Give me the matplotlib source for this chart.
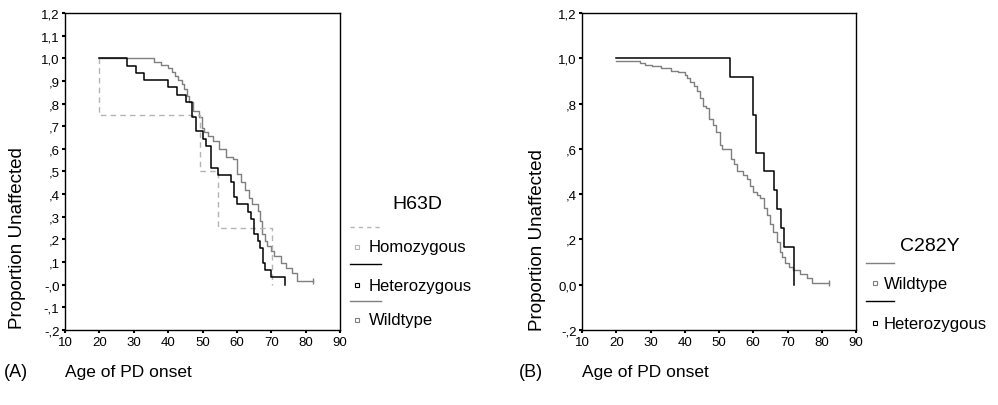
import matplotlib
matplotlib.use("Agg")
import matplotlib.pyplot as plt
from matplotlib.lines import Line2D
from matplotlib.ticker import FixedLocator, FixedFormatter

plt.rcParams['font.family'] = ['Liberation Sans', 'DejaVu Sans']

# ---------------- data ----------------
x_ticks = [10, 20, 30, 40, 50, 60, 70, 80, 90]
x_ticklabels = ["10", "20", "30", "40", "50", "60", "70", "80", "90"]

yA_ticks = [1.2, 1.1, 1.0, 0.9, 0.8, 0.7, 0.6, 0.5, 0.4, 0.3, 0.2, 0.1, 0.0, -0.1, -0.2]
yA_ticklabels = ["1,2", "1,1", "1,0", ",9", ",8", ",7", ",6", ",5", ",4", ",3", ",2", ",1", "-,0", "-,1", "-,2"]
yB_ticks = [1.2, 1.0, 0.8, 0.6, 0.4, 0.2, 0.0, -0.2]
yB_ticklabels = ["1,2", "1,0", ",8", ",6", ",4", ",2", "0,0", "-,2"]

# Panel A (H63D): drop ages and survival after each drop
hom_start, hom_s0 = 20, 1.0
hom_t = [20, 49.2, 54.4, 70.3]
hom_s = [0.75, 0.50, 0.25, 0.0]
hom_end = 70.3

het_start, het_s0 = 20, 1.0
het_t = [27.9, 30.6, 32.9, 40.0, 42.7, 45.3, 47.0, 48.0, 50.1, 51.1, 52.6, 54.6,
         58.3, 59.2, 59.9, 63.1, 64.1, 65.1, 66.0, 66.8, 67.5, 68.3, 70.0, 74.1]
het_s = [0.967, 0.935, 0.903, 0.871, 0.839, 0.806, 0.742, 0.677, 0.645, 0.613, 0.516, 0.484,
         0.452, 0.387, 0.355, 0.323, 0.290, 0.226, 0.194, 0.161, 0.097, 0.065, 0.032, 0.0]
het_end = 74.1

wtA_start, wtA_s0 = 20, 1.0
wtA_t = [36.0, 38.0, 40.0, 41.0, 42.0, 43.0, 44.0, 44.6, 45.4, 46.2, 47.1, 49.1, 49.8, 50.3,
         51.5, 53.0, 54.9, 56.8, 58.8, 59.9, 61.1, 62.4, 63.6, 64.5, 66.0, 66.8, 67.3, 68.3,
         68.8, 69.8, 70.8, 72.7, 74.2, 76.1, 77.4]
wtA_s = [0.985, 0.970, 0.955, 0.940, 0.920, 0.905, 0.885, 0.864, 0.835, 0.806, 0.765, 0.740,
         0.690, 0.675, 0.657, 0.635, 0.600, 0.565, 0.553, 0.490, 0.452, 0.420, 0.381, 0.358,
         0.327, 0.283, 0.224, 0.195, 0.172, 0.150, 0.125, 0.096, 0.072, 0.052, 0.017]
wtA_end = 82.0

# Panel B (C282Y)
wtB_start, wtB_s0 = 20, 0.99
wtB_t = [27.0, 28.4, 30.4, 33.0, 36.0, 37.9, 40.0, 40.6, 41.6, 42.6, 43.5, 44.5, 45.3, 46.1,
         47.1, 48.2, 49.2, 50.2, 50.9, 53.5, 54.4, 55.4, 57.0, 58.1, 59.1, 59.9, 61.1, 62.0,
         63.0, 64.0, 65.0, 65.9, 66.9, 67.7, 68.4, 69.3, 70.3, 71.6, 73.7, 75.6, 77.1]
wtB_s = [0.980, 0.972, 0.965, 0.958, 0.946, 0.938, 0.925, 0.911, 0.894, 0.876, 0.855, 0.823,
         0.788, 0.780, 0.732, 0.705, 0.673, 0.617, 0.600, 0.553, 0.534, 0.500, 0.483, 0.468,
         0.436, 0.410, 0.395, 0.381, 0.337, 0.307, 0.270, 0.234, 0.187, 0.146, 0.124, 0.094,
         0.077, 0.065, 0.046, 0.028, 0.008]
wtB_end = 82.0

hetB_start, hetB_s0 = 20, 1.0
hetB_t = [53.3, 60.0, 60.9, 63.2, 66.1, 67.0, 68.2, 68.9, 71.9]
hetB_s = [0.917, 0.750, 0.583, 0.500, 0.417, 0.333, 0.250, 0.167, 0.0]
hetB_end = 71.9

legendA_title = "H63D"
legendA_labels = ["Homozygous", "Heterozygous", "Wildtype"]
legendB_title = "C282Y"
legendB_labels = ["Wildtype", "Heterozygous"]

GREY = "#7f7f7f"
LIGHT = "#b4b4b4"


def km(ax, start, s0, t, s, end, **kw):
    xs = [start] + list(t) + [end]
    ys = [s0] + list(s) + [s[-1]]
    ax.step(xs, ys, where="post", **kw)


fig = plt.figure(figsize=(9.98, 4.06), dpi=100)
axA = fig.add_axes([65 / 998, 1 - 331 / 406, (340 - 65) / 998, (331 - 14) / 406])
axB = fig.add_axes([582 / 998, 1 - 331 / 406, (856 - 582) / 998, (331 - 14) / 406])

km(axA, wtA_start, wtA_s0, wtA_t, wtA_s, wtA_end, color=GREY, lw=1.0)
km(axA, hom_start, hom_s0, hom_t, hom_s, hom_end, color=LIGHT, lw=1.0, dashes=(4, 3))
km(axA, het_start, het_s0, het_t, het_s, het_end, color="black", lw=1.1)
axA.plot([wtA_end], [wtA_s[-1]], marker="|", ms=4, color=GREY, mew=1)

km(axB, wtB_start, wtB_s0, wtB_t, wtB_s, wtB_end, color=GREY, lw=1.0)
km(axB, hetB_start, hetB_s0, hetB_t, hetB_s, hetB_end, color="black", lw=1.1)
axB.plot([wtB_end], [wtB_s[-1]], marker="|", ms=4, color=GREY, mew=1)

for ax, yt, ylab in [(axA, yA_ticks, yA_ticklabels), (axB, yB_ticks, yB_ticklabels)]:
    ax.set_xlim(10, 90)
    ax.set_ylim(-0.2, 1.2)
    ax.xaxis.set_major_locator(FixedLocator(x_ticks))
    ax.xaxis.set_major_formatter(FixedFormatter(x_ticklabels))
    ax.yaxis.set_major_locator(FixedLocator(yt))
    ax.yaxis.set_major_formatter(FixedFormatter(ylab))
    ax.tick_params(axis="both", direction="out", length=2.5, width=1.5, labelsize=9.5,
                   pad=1.5, colors="black")
    for sp in ax.spines.values():
        sp.set_linewidth(1.0)
        sp.set_color("black")
    ax.set_facecolor("white")

# axis titles
fig.text(18 / 998, 1 - 238 / 406, "Proportion Unaffected", rotation=90,
         ha="center", va="center", fontsize=13.5)
fig.text(537 / 998, 1 - 240 / 406, "Proportion Unaffected", rotation=90,
         ha="center", va="center", fontsize=13.5)
fig.text(65 / 998, 1 - 373 / 406, "Age of PD onset", ha="left", va="center", fontsize=12.5)
fig.text(582 / 998, 1 - 373 / 406, "Age of PD onset", ha="left", va="center", fontsize=12.5)
fig.text(4 / 998, 1 - 373 / 406, "(A)", ha="left", va="center", fontsize=13)
fig.text(519 / 998, 1 - 373 / 406, "(B)", ha="left", va="center", fontsize=13)


def fx(px):
    return px / 998


def fy(py):
    return 1 - py / 406


def legend(title, title_xy, labels, styles, line_x, line_ys, sq_x, text_x, text_ys):
    fig.text(fx(title_xy[0]), fy(title_xy[1]), title, ha="center", va="center", fontsize=14)
    for lab, st, ly, ty in zip(labels, styles, line_ys, text_ys):
        fig.add_artist(Line2D([fx(line_x[0]), fx(line_x[1])], [fy(ly), fy(ly)],
                              transform=fig.transFigure, **st))
        fig.add_artist(Line2D([fx(sq_x)], [fy(ty)], transform=fig.transFigure,
                              marker="s", ms=3.5, mfc="white", mec=st["color"], mew=0.8,
                              linestyle="none"))
        fig.text(fx(text_x), fy(ty), lab, ha="left", va="center", fontsize=12)


legend(legendA_title, (417, 205), legendA_labels,
       [dict(color=LIGHT, lw=1.0, dashes=(3, 3)), dict(color="black", lw=1.0),
        dict(color=GREY, lw=1.0)],
       (350, 381), [228, 265, 302], 357, 369, [248, 286, 321])

legend(legendB_title, (930, 247), legendB_labels,
       [dict(color=GREY, lw=1.0), dict(color="black", lw=1.0)],
       (866, 894), [264, 302], 875, 884, [284, 324])

fig.savefig("out.png", dpi=100, facecolor="white")
